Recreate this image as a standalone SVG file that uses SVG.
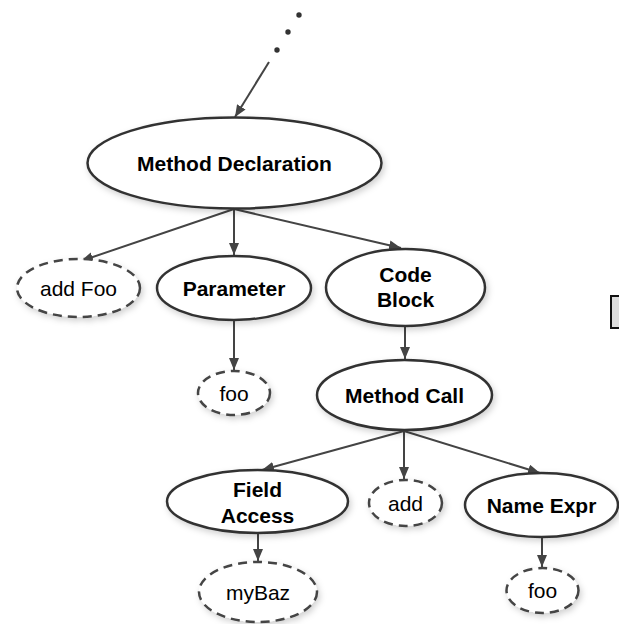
<svg xmlns="http://www.w3.org/2000/svg" width="619" height="624" viewBox="0 0 619 624">
  <style>
    .node { fill: #ffffff; stroke: #333333; stroke-width: 2.5; filter: url(#shadow); }
    .leaf { fill: #ffffff; stroke: #444444; stroke-width: 2.5; stroke-dasharray: 9 6; filter: url(#shadow); }
    .bold { font-family: "Liberation Sans", Arial, sans-serif; font-size: 21px; font-weight: bold; fill: #000; text-anchor: middle; }
    .reg { font-family: "Liberation Sans", Arial, sans-serif; font-size: 21px; fill: #000; text-anchor: middle; }
    .edge { stroke: #444444; stroke-width: 2; fill: none; marker-end: url(#arrow); }
  </style>
  <defs>
    <filter id="shadow" x="-20%" y="-20%" width="140%" height="150%">
      <feDropShadow dx="2" dy="3" stdDeviation="3" flood-color="#000" flood-opacity="0.18"/>
    </filter>
    <marker id="arrow" markerUnits="userSpaceOnUse" markerWidth="12" markerHeight="10" refX="12" refY="5" orient="auto">
      <path d="M0,0 L12,5 L0,10 z" fill="#444444"/>
    </marker>
  </defs>

  <rect width="619" height="624" fill="#ffffff"/>

  <!-- continuation dots above the root -->
  <g id="ellipsis" fill="#333333">
    <circle cx="299" cy="15" r="2.7"/>
    <circle cx="288" cy="32" r="2.7"/>
    <circle cx="277" cy="50" r="2.7"/>
  </g>

  <g id="connectors">
    <line class="edge" x1="269" y1="62" x2="235" y2="117"/>
    <line class="edge" x1="234" y1="209" x2="81" y2="261"/>
    <line class="edge" x1="234" y1="209" x2="234" y2="255"/>
    <line class="edge" x1="234" y1="209" x2="401" y2="248"/>
    <line class="edge" x1="234" y1="321" x2="234" y2="370"/>
    <line class="edge" x1="405" y1="327" x2="405" y2="359"/>
    <line class="edge" x1="404" y1="431" x2="262" y2="470"/>
    <line class="edge" x1="404" y1="431" x2="404" y2="479"/>
    <line class="edge" x1="404" y1="431" x2="540" y2="473"/>
    <line class="edge" x1="258" y1="534" x2="258" y2="561"/>
    <line class="edge" x1="542" y1="538" x2="542" y2="567"/>
  </g>

  <g id="method-declaration">
    <ellipse class="node" cx="234.5" cy="163" rx="147" ry="45.5"/>
    <text class="bold" x="234.5" y="171">Method Declaration</text>
  </g>

  <g id="add-foo">
    <ellipse class="leaf" cx="78.5" cy="288" rx="61.5" ry="29"/>
    <text class="reg" x="78.5" y="295.5">add Foo</text>
  </g>

  <g id="parameter">
    <ellipse class="node" cx="234" cy="288" rx="77" ry="32"/>
    <text class="bold" x="234" y="296">Parameter</text>
  </g>

  <g id="code-block">
    <ellipse class="node" cx="405.5" cy="287.5" rx="79.5" ry="38.5"/>
    <text class="bold" x="405.5" y="282">Code</text>
    <text class="bold" x="405.5" y="307">Block</text>
  </g>

  <g id="param-foo">
    <ellipse class="leaf" cx="234" cy="393" rx="36" ry="22"/>
    <text class="reg" x="234" y="400.5">foo</text>
  </g>

  <g id="method-call">
    <ellipse class="node" cx="404.5" cy="395" rx="87.5" ry="35"/>
    <text class="bold" x="404.5" y="403">Method Call</text>
  </g>

  <g id="field-access">
    <ellipse class="node" cx="257.5" cy="501.5" rx="90.5" ry="31.5"/>
    <text class="bold" x="257.5" y="497">Field</text>
    <text class="bold" x="257.5" y="523">Access</text>
  </g>

  <g id="add">
    <ellipse class="leaf" cx="405.5" cy="503" rx="36.5" ry="23"/>
    <text class="reg" x="405.5" y="510.5">add</text>
  </g>

  <g id="name-expr">
    <ellipse class="node" cx="541.5" cy="505" rx="76.5" ry="32"/>
    <text class="bold" x="541.5" y="513">Name Expr</text>
  </g>

  <g id="mybaz">
    <ellipse class="leaf" cx="258" cy="592" rx="59" ry="30"/>
    <text class="reg" x="258" y="599.5">myBaz</text>
  </g>

  <g id="name-foo">
    <ellipse class="leaf" cx="542.5" cy="590.5" rx="36" ry="22.5"/>
    <text class="reg" x="542.5" y="598">foo</text>
  </g>

  <!-- partially visible box at the right edge -->
  <g id="side-box">
    <rect x="611" y="296" width="20" height="32" fill="#dddddd" stroke="#111111" stroke-width="2"/>
  </g>
</svg>
